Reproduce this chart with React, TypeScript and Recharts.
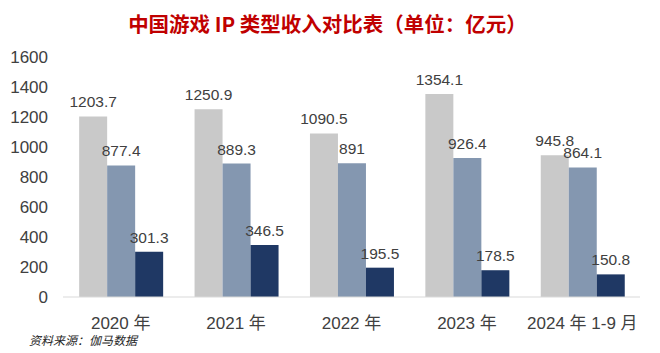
import { BarChart, Bar, XAxis, YAxis, LabelList } from "recharts";

const categories = ["2020 年", "2021 年", "2022 年", "2023 年", "2024 年 1-9 月"];
const seriesA = [1203.7, 1250.9, 1090.5, 1354.1, 945.8];
const seriesB = [877.4, 889.3, 891, 926.4, 864.1];
const seriesC = [301.3, 346.5, 195.5, 178.5, 150.8];
const yTicks = [0, 200, 400, 600, 800, 1000, 1200, 1400, 1600];

const data = categories.map((name, i) => ({
  name,
  a: seriesA[i],
  b: seriesB[i],
  c: seriesC[i],
}));

const font = '"Liberation Sans", Arial, "Noto Sans CJK SC", sans-serif';
const labelStyle = { fill: "#404040", fontSize: 15.5, fontFamily: font };

export default function App() {
  return (
    <div
      style={{
        position: "absolute",
        left: 0,
        top: 0,
        width: 660,
        height: 353,
        background: "#fff",
        fontFamily: font,
      }}
    >
      <div
        style={{
          position: "absolute",
          top: 8,
          left: 0,
          width: 655,
          textAlign: "center",
          color: "#c00000",
          fontSize: 20.5,
          fontWeight: "bold",
          fontFamily: '"Noto Sans CJK SC", "Liberation Sans", sans-serif',
        }}
      >
        中国游戏 IP 类型收入对比表（单位：亿元）
      </div>
      <BarChart
        width={660}
        height={353}
        data={data}
        margin={{ top: 57, right: 20, bottom: 26, left: 0 }}
        barCategoryGap="14%"
        barGap={0}
      >
        <XAxis
          dataKey="name"
          height={30}
          axisLine={{ stroke: "#d9d9d9" }}
          tickLine={false}
          tickMargin={14}
          tick={{ fill: "#404040", fontSize: 17, fontFamily: font }}
          interval={0}
        />
        <YAxis
          width={63}
          domain={[0, 1600]}
          ticks={yTicks}
          axisLine={false}
          tickLine={false}
          tickSize={0}
          tickMargin={15}
          tick={{ fill: "#404040", fontSize: 17, fontFamily: font }}
        />
        <Bar dataKey="a" fill="#c9c9c9" isAnimationActive={false}>
          <LabelList dataKey="a" position="top" offset={9} style={labelStyle} />
        </Bar>
        <Bar dataKey="b" fill="#8497b0" isAnimationActive={false}>
          <LabelList dataKey="b" position="top" offset={9} style={labelStyle} />
        </Bar>
        <Bar dataKey="c" fill="#1f3864" isAnimationActive={false}>
          <LabelList dataKey="c" position="top" offset={9} style={labelStyle} />
        </Bar>
      </BarChart>
      <div
        style={{
          position: "absolute",
          left: 29,
          top: 331,
          fontSize: 12,
          fontStyle: "italic",
          color: "#262626",
          fontFamily: '"Noto Sans CJK SC", sans-serif',
        }}
      >
        资料来源：伽马数据
      </div>
    </div>
  );
}
